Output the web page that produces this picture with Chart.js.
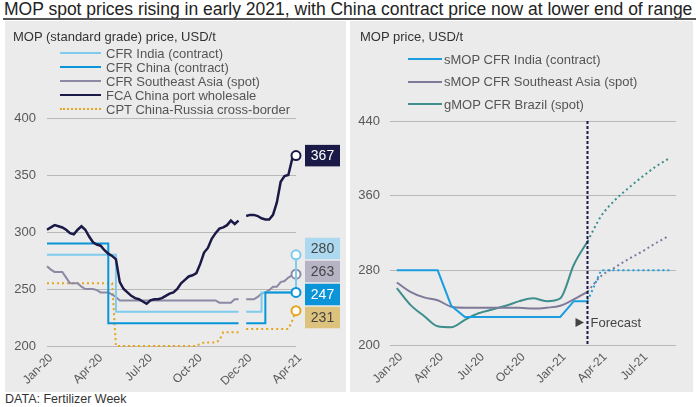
<!DOCTYPE html>
<html>
<head>
<meta charset="utf-8">
<script src="https://cdn.jsdelivr.net/npm/chart.js@4.4.1/dist/chart.umd.min.js"></script>
<style>
  body { margin:0; background:#fff; font-family:"Liberation Sans", Arial, sans-serif; color:#333; }
  .page { position:relative; width:698px; height:407px; overflow:hidden; }
  .title { position:absolute; left:4px; top:0; font-size:17.5px; line-height:19px; color:#222; white-space:nowrap; }
  .rule { position:absolute; left:3px; top:18px; width:693px; height:2px; background:#555; }
  .panel { position:absolute; top:21px; height:371px; background:#ebebeb; }
  .panel canvas { position:absolute; left:0; top:0; }
  .ptitle { position:absolute; top:8px; font-size:13px; line-height:15px; color:#333; white-space:nowrap; }
  .legend { position:absolute; font-size:13px; color:#555; }
  .legend .row { display:flex; align-items:center; white-space:nowrap; }
  .legend .swatch { display:inline-block; height:0; }
  .source { position:absolute; left:5px; top:392px; font-size:12.5px; line-height:14px; color:#333; }
</style>
</head>
<body>
<div class="page">
  <div class="title">MOP spot prices rising in early 2021, with China contract price now at lower end of range</div>
  <div class="rule"></div>

  <div class="panel" style="left:5px;width:341px;">
    <canvas id="leftChart" width="341" height="371" style="width:341px;height:371px"></canvas>
    <div class="ptitle" style="left:8px;">MOP (standard grade) price, USD/t</div>
    <div class="legend" id="leftLegend" style="left:55px;top:25px;"></div>
  </div>

  <div class="panel" style="left:350px;width:343px;">
    <canvas id="rightChart" width="343" height="371" style="width:343px;height:371px"></canvas>
    <div class="ptitle" style="left:10px;">MOP price, USD/t</div>
    <div class="legend" id="rightLegend" style="left:58px;top:27px;"></div>
  </div>

  <div class="source">DATA: Fertilizer Week</div>
</div>

<script>
Chart.defaults.font.family = '"Liberation Sans", Arial, sans-serif';
Chart.defaults.font.size = 13;
Chart.defaults.color = '#595959';

// ================= left chart data (weekly, Jan-20 .. Apr-21) =================

var leftWeekCount = 66;
var leftTickLabels = ['Jan-20', 'Apr-20', 'Jul-20', 'Oct-20', 'Dec-20', 'Apr-21'];
var leftTickStep = 13;
var leftYTicks = [200, 250, 300, 350, 400];

var cfrIndia = [280,280,280,280,280,280,280,280,280,280,
                280,280,280,280,280,280,280,280,230,230,
                230,230,230,230,230,230,230,230,230,230,
                230,230,230,230,230,230,230,230,230,230,
                230,230,230,230,230,230,230,230,230,230,
                230,null,230,230,230,230,247,247,247,247,
                247,247,247,247,247,280];

var cfrChina = [290,290,290,290,290,290,290,290,290,290,
                290,290,290,290,290,290,220,220,220,220,
                220,220,220,220,220,220,220,220,220,220,
                220,220,220,220,220,220,220,220,220,220,
                220,220,220,220,220,220,220,220,220,220,
                220,null,220,220,220,220,220,247,247,247,
                247,247,247,247,247,247];

var cfrSeAsia = [270,267,265,265,265,260,255,255,255,252,
                 250,250,250,249,247,247,247,245,243,240,
                 240,240,240,240,240,240,240,240,240,240,
                 240,240,240,240,240,240,240,240,240,240,
                 240,240,240,240,240,238,238,238,238,241,
                 241,null,241,241,241,243,246,247,249,252,
                 252,256,257,260,262,263];

var fcaChina = [302,304,306,305,304,302,299,298,302,305,
                302,296,291,289,288,284,281,279,276,256,
                250,247,244,242,241,239,237,240,241,241,
                242,244,246,247,250,255,258,261,262,264,
                272,282,286,294,299,303,304,306,310,307,
                310,null,314,315,315,314,312,311,311,315,
                326,344,349,350,364,367];

var cptChinaRussia = [255,255,255,255,255,255,255,255,255,255,
                      255,255,255,255,255,255,255,255,200,200,
                      200,200,200,200,200,200,200,200,200,200,
                      200,200,200,200,200,200,200,200,200,200,
                      202,203,203,203,203,205,212,212,212,212,
                      212,null,215,215,215,215,215,215,215,215,
                      215,215,215,215,222,231];

// ================= right chart data (monthly, Jan-20 .. Sep-21) =================

var rightMonths = ['Jan-20','Feb-20','Mar-20','Apr-20','May-20','Jun-20','Jul-20','Aug-20','Sep-20',
                   'Oct-20','Nov-20','Dec-20','Jan-21','Feb-21','Mar-21','Apr-21','May-21','Jun-21',
                   'Jul-21','Aug-21','Sep-21'];
var rightTickStep = 3;
var rightYTicks = [200, 280, 360, 440];
var forecastStart = 14;

var smopIndia = [280,280,280,280,242,230,230,230,230,230,230,230,230,247,247,
                 null,null,null,null,null,null];
var smopIndiaFc = [null,null,null,null,null,null,null,null,null,null,null,null,null,null,
                   247,280,280,280,280,280,280];
var smopSeAsia = [267,257,251,248,241,240,240,240,240,240,239,240,242,249,257,
                  null,null,null,null,null,null];
var smopSeAsiaFc = [null,null,null,null,null,null,null,null,null,null,null,null,null,null,
                    257,274,283,292,300,309,317];
var gmopBrazil = [261,243,231,220,219,227,234,238,242,247,250,247,250,286,311,
                  null,null,null,null,null,null];
var gmopBrazilFc = [null,null,null,null,null,null,null,null,null,null,null,null,null,null,
                    311,338,355,368,380,391,400];

// ================= legends (html) =================

function buildLegend(el, items, rowHeight, swatchWidth, gap) {
  items.forEach(function(it) {
    var row = document.createElement('div');
    row.className = 'row';
    row.style.height = rowHeight + 'px';
    var sw = document.createElement('span');
    sw.className = 'swatch';
    sw.style.width = swatchWidth + 'px';
    sw.style.marginRight = gap + 'px';
    sw.style.borderTop = '2px ' + (it.dotted ? 'dotted ' : 'solid ') + it.color;
    var txt = document.createElement('span');
    txt.textContent = it.label;
    row.appendChild(sw);
    row.appendChild(txt);
    el.appendChild(row);
  });
}

var leftSeries = [
  { label: 'CFR India (contract)', color: '#7ecbee', data: cfrIndia, box: '#acd9ef', boxText: '#444', stepped: true, order: 2 },
  { label: 'CFR China (contract)', color: '#0a95d8', data: cfrChina, box: '#0b95d8', boxText: '#fff', stepped: true, order: 1 },
  { label: 'CFR Southeast Asia (spot)', color: '#8c89a4', data: cfrSeAsia, box: '#b6b3c5', boxText: '#444', order: 3 },
  { label: 'FCA China port wholesale', color: '#1b1947', data: fcaChina, box: '#1b1a47', boxText: '#fff', width: 2.5, order: 0 },
  { label: 'CPT China-Russia cross-border', color: '#e5a51c', data: cptChinaRussia, box: '#ddc27e', boxText: '#444', dotted: true, order: 4 }
];

buildLegend(document.getElementById('leftLegend'), leftSeries, 14, 41, 5);
buildLegend(document.getElementById('rightLegend'), [
  { label: 'sMOP CFR India (contract)', color: '#1a9edf' },
  { label: 'sMOP CFR Southeast Asia (spot)', color: '#7e7a9a' },
  { label: 'gMOP CFR Brazil (spot)', color: '#3e8e8c' }
], 22.5, 34, 2);

// ================= plugins =================

// value boxes at the right end of the left chart, pushed apart when they collide
var endLabels = {
  id: 'endLabels',
  afterDatasetsDraw: function(chart) {
    var ctx = chart.ctx, area = chart.chartArea;
    var h = 23;
    var items = [];
    chart.data.datasets.forEach(function(ds, i) {
      var meta = chart.getDatasetMeta(i);
      var pt = meta.data[meta.data.length - 1];
      items.push({ target: pt.y, value: ds.data[ds.data.length - 1], bg: ds.boxColor, fg: ds.boxText });
    });
    items.sort(function(a, b) { return a.target - b.target; });

    var groups = items.map(function(it) { return { items: [it], mean: it.target }; });
    var merged = true;
    while (merged) {
      merged = false;
      for (var g = 0; g < groups.length - 1; g++) {
        var a = groups[g], b = groups[g + 1];
        if (a.mean + a.items.length * h / 2 > b.mean - b.items.length * h / 2) {
          var all = a.items.concat(b.items);
          var sum = 0;
          all.forEach(function(it) { sum += it.target; });
          groups.splice(g, 2, { items: all, mean: sum / all.length });
          merged = true;
          break;
        }
      }
    }

    ctx.save();
    ctx.font = '14px "Liberation Sans", Arial, sans-serif';
    ctx.textAlign = 'center';
    ctx.textBaseline = 'middle';
    groups.forEach(function(g) {
      g.items.forEach(function(it, k) {
        var cy = g.mean - g.items.length * h / 2 + h * k + h / 2;
        var x = area.right + 9;
        ctx.fillStyle = it.bg;
        ctx.fillRect(x, cy - 10.75, 35, 21.5);
        ctx.fillStyle = it.fg;
        ctx.fillText(String(it.value), x + 17.5, cy + 1);
      });
    });
    ctx.restore();
  }
};

// dashed forecast divider + label on the right chart
var forecastMarker = {
  id: 'forecastMarker',
  afterDatasetsDraw: function(chart) {
    var ctx = chart.ctx;
    var xs = chart.scales.x, ys = chart.scales.y;
    var x = xs.getPixelForValue(forecastStart);
    var top = ys.getPixelForValue(rightYTicks[rightYTicks.length - 1]);
    var bottom = ys.getPixelForValue(rightYTicks[0]);
    ctx.save();
    ctx.strokeStyle = '#1b1947';
    ctx.lineWidth = 2;
    ctx.setLineDash([3, 2]);
    ctx.beginPath();
    ctx.moveTo(x, top);
    ctx.lineTo(x, bottom);
    ctx.stroke();
    ctx.setLineDash([]);

    var ty = ys.getPixelForValue(224);
    ctx.fillStyle = '#444';
    ctx.beginPath();
    ctx.moveTo(x - 12, ty - 4.5);
    ctx.lineTo(x - 3.5, ty);
    ctx.lineTo(x - 12, ty + 4.5);
    ctx.closePath();
    ctx.fill();
    ctx.font = '13px "Liberation Sans", Arial, sans-serif';
    ctx.textBaseline = 'middle';
    ctx.fillText('Forecast', x + 3, ty + 1);
    ctx.restore();
  }
};

// ================= left chart =================

var weeks = [];
for (var w = 0; w < leftWeekCount; w++) weeks.push(w);

var lastIdx = leftWeekCount - 1;

new Chart(document.getElementById('leftChart'), {
  type: 'line',
  data: {
    labels: weeks,
    datasets: leftSeries.map(function(s) {
      return {
        label: s.label,
        data: s.data,
        borderColor: s.color,
        borderWidth: s.width || 2,
        borderDash: s.dotted ? [2, 3] : [],
        stepped: s.stepped ? true : false,
        tension: 0,
        fill: false,
        clip: false,
        order: s.order,
        pointRadius: function(c) { return c.dataIndex === lastIdx ? 4.5 : 0; },
        pointHoverRadius: 0,
        pointBackgroundColor: '#fff',
        pointBorderColor: s.color,
        pointBorderWidth: 2,
        boxColor: s.box,
        boxText: s.boxText
      };
    })
  },
  options: {
    responsive: false,
    animation: false,
    layout: { padding: { top: 97, right: 50, bottom: 0, left: 0 } },
    plugins: { legend: { display: false }, tooltip: { enabled: false } },
    scales: {
      x: {
        offset: false,
        grid: { display: false, drawTicks: false },
        border: { display: false },
        afterFit: function(scale) { scale.height = 46; },
        ticks: {
          autoSkip: false,
          maxRotation: 45,
          minRotation: 45,
          padding: 5,
          labelOffset: 4,
          font: { size: 12 },
          callback: function(v, i) { return i % leftTickStep === 0 ? leftTickLabels[i / leftTickStep] : ''; }
        }
      },
      y: {
        min: leftYTicks[0],
        max: leftYTicks[leftYTicks.length - 1],
        afterFit: function(scale) { scale.width = 42; },
        afterBuildTicks: function(scale) { scale.ticks = leftYTicks.map(function(v) { return { value: v }; }); },
        grid: { color: '#b8b8b8', drawTicks: false },
        border: { display: false },
        ticks: { padding: 11 }
      }
    }
  },
  plugins: [endLabels]
});

// ================= right chart =================

function rightLine(data, color, dotted, smooth, order) {
  return {
    data: data,
    borderColor: color,
    borderWidth: 2,
    borderDash: dotted ? [2, 3] : [],
    cubicInterpolationMode: smooth ? 'monotone' : 'default',
    tension: smooth ? 0.4 : 0,
    pointRadius: 0,
    pointHoverRadius: 0,
    fill: false,
    order: order
  };
}

new Chart(document.getElementById('rightChart'), {
  type: 'line',
  data: {
    labels: rightMonths,
    datasets: [
      rightLine(smopIndia, '#1a9edf', false, false, 0),
      rightLine(smopSeAsia, '#7e7a9a', false, true, 1),
      rightLine(gmopBrazil, '#3e8e8c', false, true, 2),
      rightLine(smopIndiaFc, '#1a9edf', true, false, 0),
      rightLine(smopSeAsiaFc, '#7e7a9a', true, true, 1),
      rightLine(gmopBrazilFc, '#3e8e8c', true, true, 2)
    ]
  },
  options: {
    responsive: false,
    animation: false,
    layout: { padding: { top: 100, right: 17, bottom: 0, left: 0 } },
    plugins: { legend: { display: false }, tooltip: { enabled: false } },
    scales: {
      x: {
        offset: true,
        grid: { display: false, drawTicks: false },
        border: { display: false },
        afterFit: function(scale) { scale.height = 47; },
        ticks: {
          autoSkip: false,
          maxRotation: 45,
          minRotation: 45,
          padding: 5,
          labelOffset: 4,
          font: { size: 12 },
          callback: function(v, i) { return i % rightTickStep === 0 ? rightMonths[i] : ''; }
        }
      },
      y: {
        min: rightYTicks[0],
        max: rightYTicks[rightYTicks.length - 1],
        afterFit: function(scale) { scale.width = 40; },
        afterBuildTicks: function(scale) { scale.ticks = rightYTicks.map(function(v) { return { value: v }; }); },
        grid: { color: '#b8b8b8', drawTicks: false },
        border: { display: false },
        ticks: { padding: 10 }
      }
    }
  },
  plugins: [forecastMarker]
});
</script>
</body>
</html>
